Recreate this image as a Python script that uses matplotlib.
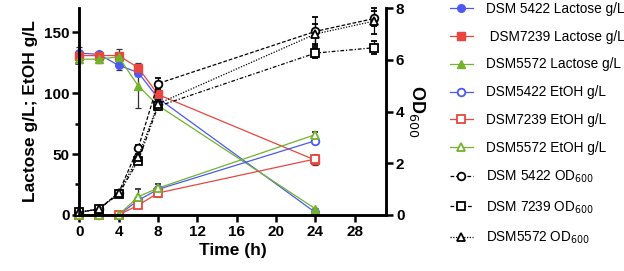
import matplotlib.pyplot as plt
from matplotlib.ticker import MultipleLocator

plt.rcParams['font.family'] = ['Liberation Sans', 'DejaVu Sans']

# sampling times (h)
t = [0, 2, 4, 6, 8, 24]
t_od = [0, 2, 4, 6, 8, 24, 30]

# lactose (g/L)
lac_5422 = [133, 132, 123, 117, 96, 2]
lac_7239 = [131, 131, 131, 121, 99, 45]
lac_5572 = [128, 128, 130, 106, 90, 5]
lac_5422_err = [5, 2, 4, 3, 2, 1]
lac_7239_err = [4, 2, 5, 4, 3, 4]
lac_5572_err = [3, 3, 3, 18, 3, 1]

# ethanol (g/L)
etoh_5422 = [0, 0, 0, 12, 21, 61]
etoh_7239 = [0, 0, 0, 8, 18, 46]
etoh_5572 = [0, 0, 0, 15, 22, 66]
etoh_5422_err = [0, 0, 0, 2, 2, 2]
etoh_7239_err = [0, 0, 0, 2, 3, 3]
etoh_5572_err = [0, 0, 0, 6, 3, 2]

# OD600
od_5422 = [0.1, 0.23, 0.85, 2.6, 5.08, 7.1, 7.6]
od_7239 = [0.1, 0.23, 0.8, 2.1, 4.2, 6.26, 6.47]
od_5572 = [0.1, 0.23, 0.85, 2.25, 4.3, 7.0, 7.5]
od_5422_err = [0.05, 0.05, 0.1, 0.1, 0.2, 0.55, 0.3]
od_7239_err = [0.05, 0.05, 0.1, 0.1, 0.15, 0.2, 0.25]
od_5572_err = [0.05, 0.05, 0.1, 0.1, 0.15, 0.4, 0.5]

labels = ['DSM 5422 Lactose g/L', ' DSM7239 Lactose g/L', 'DSM5572 Lactose g/L',
          'DSM5422 EtOH g/L', 'DSM7239 EtOH g/L', 'DSM5572 EtOH g/L',
          'DSM 5422 OD$_{600}$', 'DSM 7239 OD$_{600}$', 'DSM5572 OD$_{600}$']

blue = '#4a5af2'
red = '#e8463e'
green = '#72b32c'

fig = plt.figure(figsize=(6.24, 2.71), dpi=100)
ax = fig.add_axes([0.127, 0.207, 0.492, 0.763])
ax2 = ax.twinx()

eb = dict(capsize=2.5, elinewidth=0.9, capthick=0.9, lw=0.9, ms=5.5, clip_on=False)

handles = []
h = ax.errorbar(t, lac_5422, yerr=lac_5422_err, color=blue, marker='o', ecolor='#333333', **eb)
handles.append(h[0])
h = ax.errorbar(t, lac_7239, yerr=lac_7239_err, color=red, marker='s', ecolor='#333333', **eb)
handles.append(h[0])
h = ax.errorbar(t, lac_5572, yerr=lac_5572_err, color=green, marker='^', ecolor='#333333', **eb)
handles.append(h[0])
h = ax.errorbar(t, etoh_5422, yerr=etoh_5422_err, color=blue, marker='o', mfc='white', mew=1.3, ecolor='#333333', **eb)
handles.append(h[0])
h = ax.errorbar(t, etoh_7239, yerr=etoh_7239_err, color=red, marker='s', mfc='white', mew=1.3, ecolor='#333333', **eb)
handles.append(h[0])
h = ax.errorbar(t, etoh_5572, yerr=etoh_5572_err, color=green, marker='^', mfc='white', mew=1.3, ecolor='#333333', **eb)
handles.append(h[0])

h = ax2.errorbar(t_od, od_5422, yerr=od_5422_err, color='black', marker='o', mfc='white', mew=1.3, ls=(0, (3, 1.5)), **eb)
handles.append(h[0])
h = ax2.errorbar(t_od, od_7239, yerr=od_7239_err, color='black', marker='s', mfc='white', mew=1.3, ls=(0, (3, 1.5, 1, 1.5)), **eb)
handles.append(h[0])
h = ax2.errorbar(t_od, od_5572, yerr=od_5572_err, color='black', marker='^', mfc='white', mew=1.3, ls=(0, (1, 1.2)), **eb)
handles.append(h[0])

ax.set_xlim(0, 31.2)
ax.set_ylim(0, 170)
ax2.set_ylim(0, 8)
ax.set_xticks([0, 4, 8, 12, 16, 20, 24, 28])
ax.set_yticks([0, 50, 100, 150])
ax.yaxis.set_minor_locator(MultipleLocator(25))
ax2.set_yticks([0, 2, 4, 6, 8])

for a in (ax, ax2):
    for s in a.spines.values():
        s.set_linewidth(1.8)
    a.spines['top'].set_visible(False)
    a.tick_params(width=1.8, length=5, labelsize=11, pad=2)
    a.tick_params(which='minor', width=1.8, length=3)
    for lbl in a.get_xticklabels() + a.get_yticklabels():
        lbl.set_fontweight('bold')

ax.set_xlabel('Time (h)', fontsize=12.5, fontweight='bold', labelpad=3)
ax.set_ylabel('Lactose g/L; EtOH g/L', fontsize=12.5, fontweight='bold', labelpad=4)
ax2.set_ylabel('OD$_{600}$', fontsize=13, fontweight='bold', rotation=-90, labelpad=16)

fig.legend(handles, labels, loc='upper left', bbox_to_anchor=(0.712, 1.014), frameon=False,
           fontsize=9.8, handlelength=1.7, labelspacing=1.02, handletextpad=0.95,
           borderaxespad=0)

fig.savefig('out.png', dpi=100)
